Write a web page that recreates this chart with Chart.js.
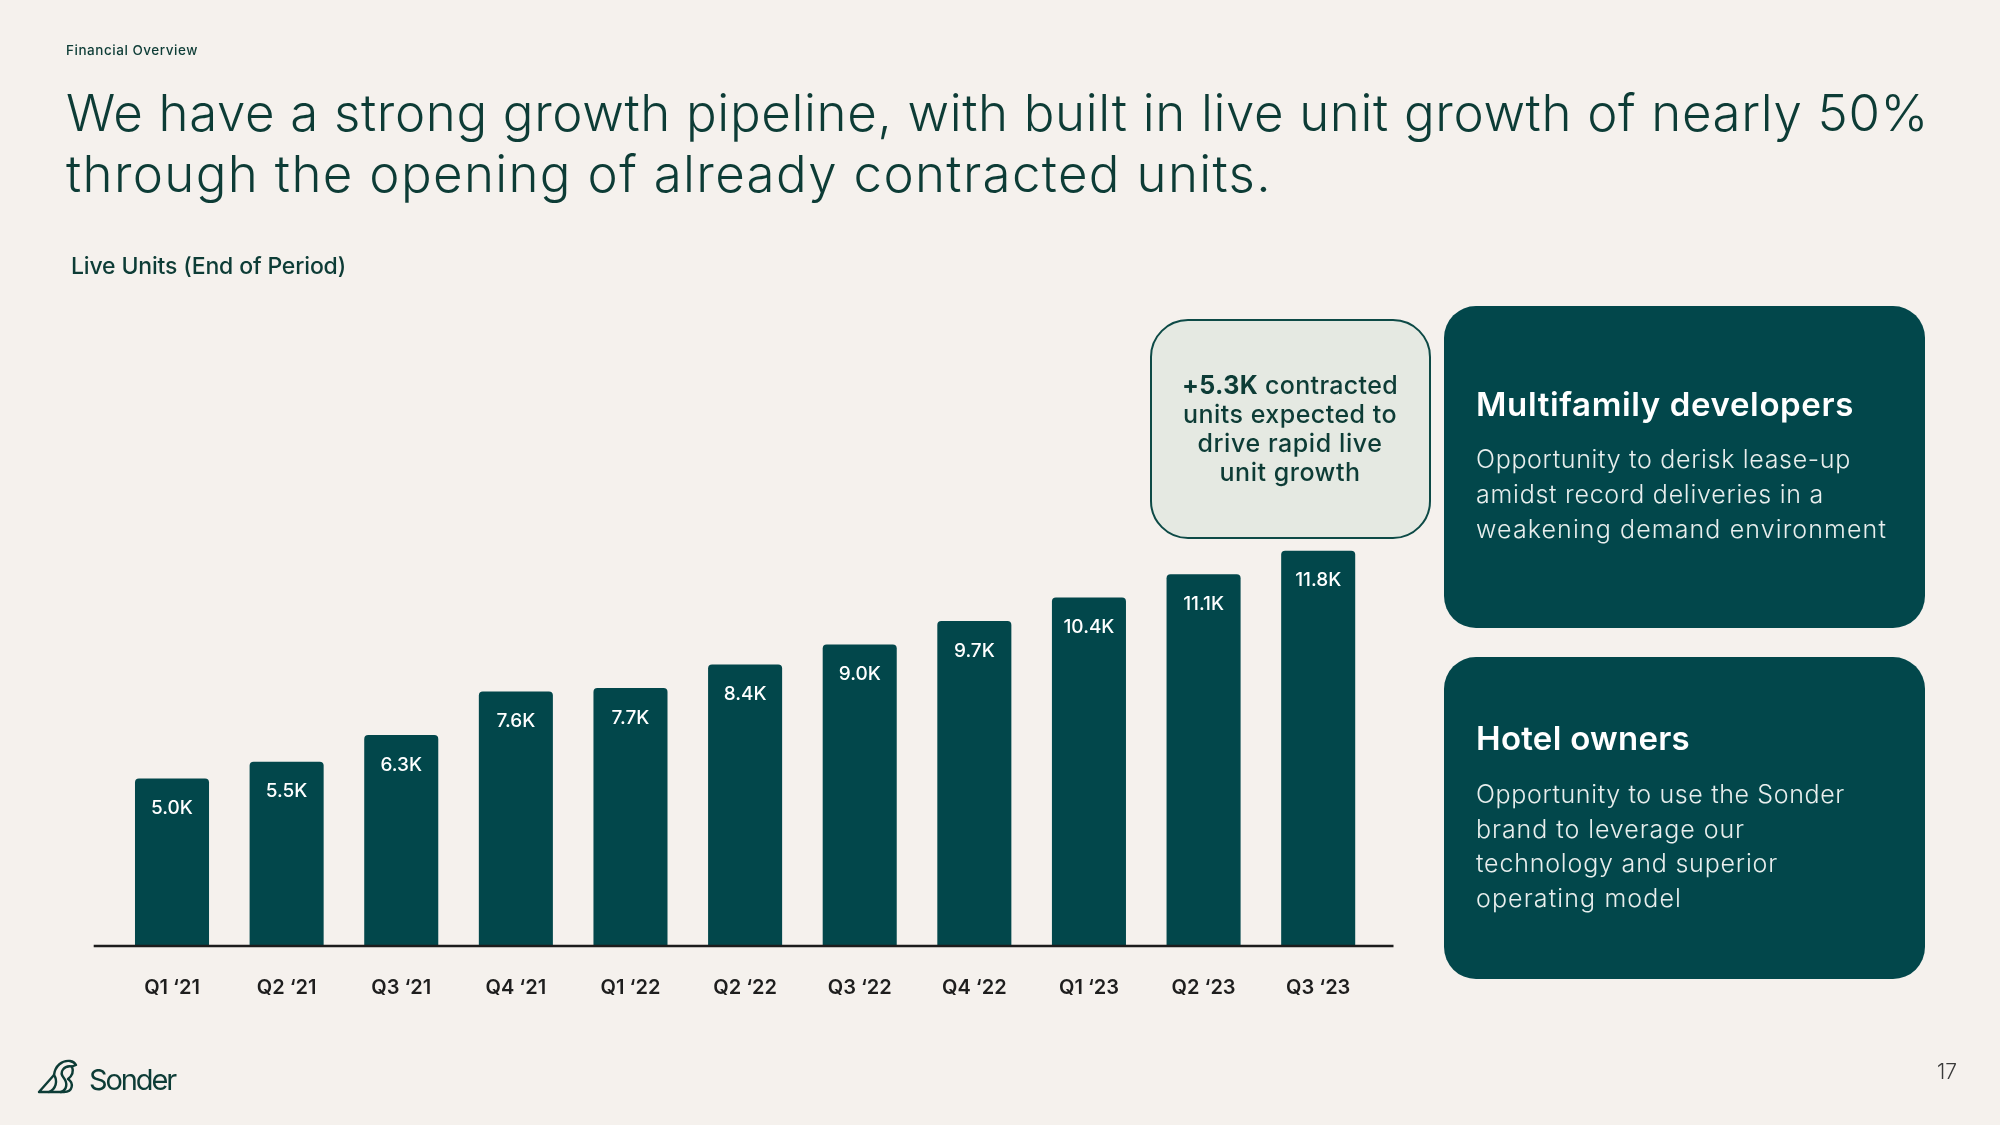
<!DOCTYPE html>
<html>
<head>
<meta charset="utf-8">
<script src="https://cdn.jsdelivr.net/npm/chart.js@4.4.0/dist/chart.umd.min.js"></script>
<style>
  html, body { margin: 0; padding: 0; background: #f5f1ed; }
  #page { position: relative; width: 2000px; height: 1125px; overflow: hidden; background: #f5f1ed;
          font-family: Inter, "Noto Sans", sans-serif; color: #0d3c36; }
  .t { position: absolute; white-space: nowrap; line-height: 1.2; }
  .bl { display: inline-block; width: 0; height: 0; vertical-align: baseline; }
  .panel { position: absolute; background: #02474b; border-radius: 32px; }
  #callout { position: absolute; left: 1150px; top: 319px; width: 281px; height: 220px; box-sizing: border-box;
             background: #e5e9e2; border: 2.5px solid #0d4a46; border-radius: 38px; }
  #chartWrap { position: absolute; left: 0; top: 0; width: 2000px; height: 1125px; }
  #logo { position: absolute; left: 37px; top: 1058px; width: 42px; height: 36px; }
</style>
</head>
<body>
<div id="page">
  <div class="panel" style="left:1444px; top:306px; width:481px; height:322px;"></div>
  <div class="panel" style="left:1444px; top:657px; width:481px; height:322px;"></div>
  <div id="callout"></div>
  <div id="chartWrap"><canvas id="c" width="2000" height="1125"></canvas></div>
  <svg id="logo" viewBox="0 0 42 36" fill="none" stroke="#0d3c36" stroke-width="2.4" stroke-linejoin="round" stroke-linecap="round">
    <path d="M2 34 L17 17 C18 8 25 2 33 3 C36 3.5 38 5 39 7 L35 8.5 C37 14 35 18 31 21 C37 25 36 34 27 34 Z"/>
    <path d="M35 8.5 C27 7 22 14 26.5 19.5 C31 25 30 32 24 34"/>
    <path d="M17 17 C21 23 19 31 12 34"/>
  </svg>
</div>

<script>
// ---------------- DATA ----------------
const categories = ['Q1 \u201821','Q2 \u201821','Q3 \u201821','Q4 \u201821','Q1 \u201822','Q2 \u201822','Q3 \u201822','Q4 \u201822','Q1 \u201823','Q2 \u201823','Q3 \u201823'];
const liveUnitsK = [5.0, 5.5, 6.3, 7.6, 7.7, 8.4, 9.0, 9.7, 10.4, 11.1, 11.8];
const valueLabels = ['5.0K','5.5K','6.3K','7.6K','7.7K','8.4K','9.0K','9.7K','10.4K','11.1K','11.8K'];
const yMin = 0;
const yMax = 14;

// ---------------- TEXT ----------------
const page = document.getElementById('page');
const DARK = '#0d3c36';
const texts = [
  {html:'Financial Overview', x:66, b:55, s:13.5, w:500, c:DARK, tw:132},
  {html:'We have a strong growth pipeline, with built in live unit growth of nearly 50%', x:66, b:131, s:51, w:300, c:DARK, tw:1863},
  {html:'through the opening of already contracted units.', x:66, b:192, s:51, w:300, c:DARK, tw:1206},
  {html:'Live Units (End of Period)', x:71, b:274, s:23, w:500, c:DARK, tw:275},
  {html:'<b style="font-weight:700">+5.3K</b> contracted', cx:1290, b:394, s:25, w:500, c:DARK, tw:216},
  {html:'units expected to', cx:1290, b:423, s:25, w:500, c:DARK, tw:214},
  {html:'drive rapid live', cx:1290, b:452, s:25, w:500, c:DARK, tw:185},
  {html:'unit growth', cx:1290, b:481, s:25, w:500, c:DARK, tw:141},
  {html:'Multifamily developers', x:1476, b:416, s:33, w:600, c:'#ffffff', tw:378},
  {html:'Opportunity to derisk lease-up', x:1476, b:468, s:25, w:300, c:'#e8eeed', tw:375},
  {html:'amidst record deliveries in a', x:1476, b:503, s:25, w:300, c:'#e8eeed', tw:348},
  {html:'weakening demand environment', x:1476, b:538, s:25, w:300, c:'#e8eeed', tw:411},
  {html:'Hotel owners', x:1476, b:750, s:33, w:600, c:'#ffffff', tw:214},
  {html:'Opportunity to use the Sonder', x:1476, b:803, s:25, w:300, c:'#e8eeed', tw:369},
  {html:'brand to leverage our', x:1476, b:838, s:25, w:300, c:'#e8eeed', tw:269},
  {html:'technology and superior', x:1476, b:872, s:25, w:300, c:'#e8eeed', tw:302},
  {html:'operating model', x:1476, b:907, s:25, w:300, c:'#e8eeed', tw:206},
  {html:'Sonder', x:89, b:1090, s:29, w:400, c:DARK, tw:86},
  {html:'17', x:1937, b:1079, s:21, w:300, c:'#3a3a3a', tw:20}
];
texts.forEach(t => {
  const d = document.createElement('div');
  d.className = 't';
  d.innerHTML = t.html + '<i class="bl"></i>';
  d.style.fontSize = t.s + 'px';
  d.style.fontWeight = t.w;
  d.style.color = t.c;
  d.style.left = '0px'; d.style.top = '0px';
  page.appendChild(d);
  const w0 = d.getBoundingClientRect().width;
  const n = d.textContent.length;
  let ls = (t.tw - w0) / n;
  const lim = t.s * 0.18;
  if (ls > lim) ls = lim;
  if (ls < -lim) ls = -lim;
  d.style.letterSpacing = ls + 'px';
  const w1 = d.getBoundingClientRect().width;
  const bOff = d.querySelector('.bl').offsetTop;
  d.style.top = (t.b - bOff) + 'px';
  if (t.cx !== undefined) d.style.left = (t.cx - w1 / 2) + 'px';
  else d.style.left = t.x + 'px';
});

// ---------------- CHART ----------------
const BAR = '#02474b';
const baselinePlugin = {
  id: 'baseline',
  afterDatasetsDraw(chart) {
    const {ctx, chartArea} = chart;
    const y = chart.scales.y.getPixelForValue(0);
    ctx.save();
    ctx.strokeStyle = '#1c1c1c';
    ctx.lineWidth = 2.5;
    ctx.beginPath();
    ctx.moveTo(chartArea.left - 21, y);
    ctx.lineTo(chartArea.right + 18, y);
    ctx.stroke();
    const meta = chart.getDatasetMeta(0);
    ctx.fillStyle = '#ffffff';
    ctx.font = '500 19px Inter, "Noto Sans", sans-serif';
    ctx.textAlign = 'center';
    ctx.textBaseline = 'middle';
    meta.data.forEach((bar, i) => {
      ctx.fillText(valueLabels[i], bar.x, bar.y + 30);
    });
    ctx.restore();
  }
};

new Chart(document.getElementById('c'), {
  type: 'bar',
  data: {
    labels: categories,
    datasets: [{
      data: liveUnitsK,
      backgroundColor: BAR,
      borderRadius: {topLeft: 4, topRight: 4, bottomLeft: 0, bottomRight: 0},
      borderSkipped: 'start',
      barPercentage: 0.646,
      categoryPercentage: 1.0
    }]
  },
  options: {
    responsive: false,
    animation: false,
    events: [],
    layout: { padding: { left: 114.7, right: 624.5, top: 477, bottom: 119 } },
    plugins: { legend: { display: false }, tooltip: { enabled: false } },
    scales: {
      x: {
        grid: { display: false, drawTicks: false },
        border: { display: false },
        afterFit(scale) { scale.height = 60; },
        ticks: {
          color: '#1e1e1e',
          padding: 30,
          maxRotation: 0,
          font: { family: 'Inter, "Noto Sans", sans-serif', size: 20, weight: '600' }
        }
      },
      y: { display: false, min: yMin, max: yMax }
    }
  },
  plugins: [baselinePlugin]
});
</script>
</body>
</html>
